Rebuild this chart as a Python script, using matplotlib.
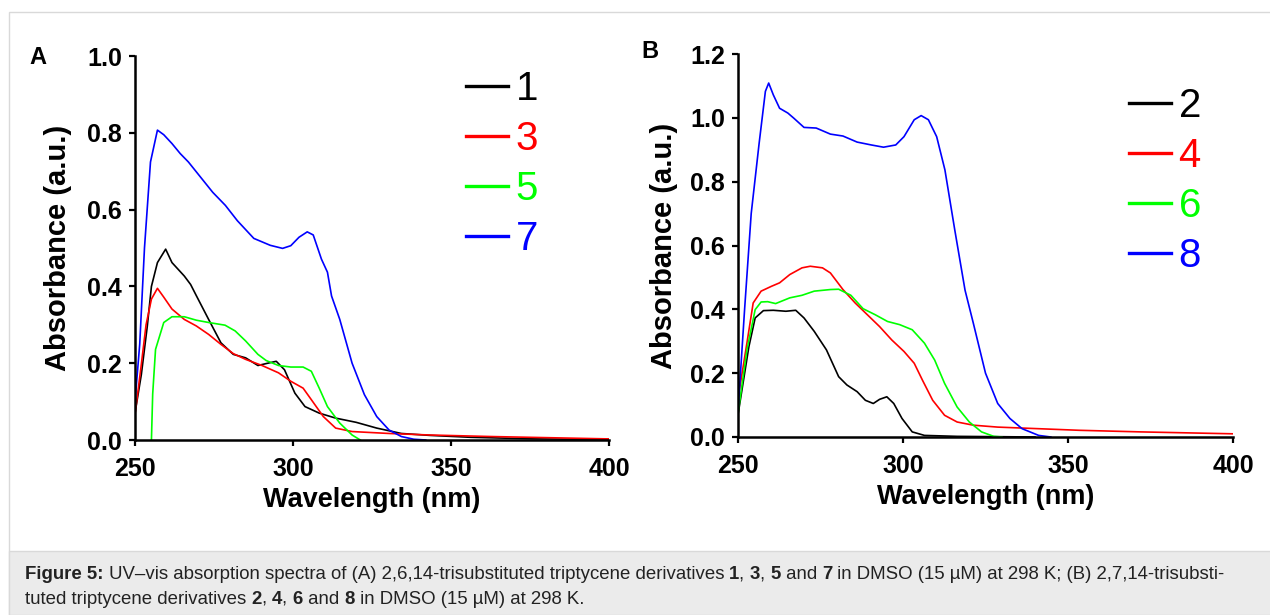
import matplotlib
matplotlib.use("Agg")
from matplotlib import pyplot as plt
from matplotlib.patches import Rectangle

# ---- panel A: 2,6,14-trisubstituted (1, 3, 5, 7) ----
wl_1 = [250, 252, 253.9, 255.2, 257.1, 259.7, 261.7, 265.6, 267.6, 269.4, 273.3, 277.2, 281.1, 285, 288.9,
        291.5, 294.7, 297.3, 300.6, 303.8, 308.3, 313.5, 320, 326.5, 334.3, 343.3, 356.3, 375.8, 400]
abs_1 = [0.07, 0.17, 0.297, 0.40, 0.462, 0.497, 0.462, 0.427, 0.405, 0.376, 0.314, 0.253, 0.223, 0.214, 0.194,
         0.199, 0.205, 0.183, 0.122, 0.087, 0.07, 0.057, 0.046, 0.031, 0.017, 0.012, 0.007, 0.003, 0.001]

wl_3 = [250, 251.9, 253.5, 255.2, 257.1, 259.1, 261.7, 265.6, 269.4, 273.3, 277.2, 281.1, 285, 290.2, 295.4,
        299.3, 303.2, 305.8, 309.6, 313.5, 318.7, 330.4, 343.3, 362.8, 399, 400]
abs_3 = [0.066, 0.19, 0.30, 0.367, 0.395, 0.372, 0.341, 0.314, 0.297, 0.275, 0.249, 0.225, 0.21, 0.194, 0.175,
         0.153, 0.135, 0.105, 0.061, 0.031, 0.022, 0.017, 0.013, 0.009, 0.003, 0.003]

wl_5 = [255.2, 255.6, 256.5, 259.1, 261.7, 265.6, 269.4, 273.3, 278.5, 281.7, 285, 288.9, 291.5, 295.4, 299.3,
        303.2, 305.8, 308.3, 310.9, 314.8, 318.7, 321.3]
abs_5 = [0.0, 0.12, 0.236, 0.306, 0.321, 0.321, 0.312, 0.306, 0.299, 0.284, 0.258, 0.223, 0.207, 0.194, 0.19,
         0.19, 0.179, 0.135, 0.087, 0.044, 0.013, 0.0]

wl_7 = [250, 251.5, 253, 254.9, 257.1, 259.1, 261.7, 264.3, 266.9, 270.7, 274.6, 278.6, 282.4, 287.6, 292.8,
        296.7, 299.3, 301.9, 304.5, 306.4, 309.0, 310.9, 312.2, 314.8, 318.7, 322.6, 326.5, 330.4, 334.3,
        338.2, 342]
abs_7 = [0.10, 0.25, 0.50, 0.724, 0.807, 0.795, 0.772, 0.746, 0.724, 0.685, 0.645, 0.611, 0.571, 0.525, 0.507,
         0.499, 0.506, 0.528, 0.542, 0.534, 0.471, 0.437, 0.375, 0.314, 0.20, 0.118, 0.061, 0.026, 0.009,
         0.002, 0.0]

# ---- panel B: 2,7,14-trisubstituted (2, 4, 6, 8) ----
wl_2 = [250, 253.3, 255.2, 257.7, 260.7, 264.5, 267.5, 270, 273.1, 276.8, 280.5, 283, 286.1, 288.6, 291,
        292.9, 295.1, 297.2, 299.7, 302.8, 306.5, 316.4, 328.7, 340]
abs_2 = [0.07, 0.283, 0.373, 0.396, 0.397, 0.394, 0.397, 0.373, 0.331, 0.273, 0.189, 0.163, 0.142, 0.115, 0.105,
         0.118, 0.126, 0.105, 0.058, 0.016, 0.005, 0.002, 0.001, 0.0]

wl_4 = [250, 252.7, 254.6, 257, 260.1, 262.6, 265.7, 269.4, 271.9, 275.6, 278, 281.8, 285.5, 289.2, 292.9,
        296.6, 300.3, 303.4, 305.9, 309, 312.6, 316.4, 321.3, 328.7, 341.1, 353.4, 372, 400]
abs_4 = [0.12, 0.294, 0.42, 0.457, 0.472, 0.483, 0.509, 0.53, 0.535, 0.53, 0.514, 0.462, 0.42, 0.383, 0.346,
         0.304, 0.268, 0.231, 0.178, 0.115, 0.068, 0.047, 0.037, 0.031, 0.026, 0.021, 0.016, 0.01]

wl_6 = [250, 252.7, 255.2, 257, 259, 261.4, 265.7, 269.4, 273.1, 278, 280.5, 284.2, 287.9, 291.6, 295.3,
        299, 302.8, 306.5, 309.6, 312.6, 316.4, 320.1, 323.8, 327.5, 330]
abs_6 = [0.073, 0.273, 0.399, 0.423, 0.424, 0.418, 0.436, 0.444, 0.457, 0.462, 0.463, 0.444, 0.402, 0.383, 0.362,
         0.352, 0.336, 0.294, 0.241, 0.168, 0.094, 0.047, 0.016, 0.002, 0.0]

wl_8 = [250, 252, 254, 256.4, 258.3, 259.3, 260.7, 262.6, 265.1, 266.9, 270, 273.7, 278, 281.8, 286.1, 290.4,
        294.1, 297.8, 300.3, 303.4, 305.5, 307.7, 310.2, 312.7, 315.7, 318.8, 321.3, 325, 328.7, 332.4,
        336.1, 341.1, 344.8]
abs_8 = [0.08, 0.40, 0.70, 0.92, 1.083, 1.109, 1.072, 1.03, 1.015, 0.999, 0.97, 0.968, 0.949, 0.943, 0.924, 0.915,
         0.908, 0.915, 0.941, 0.994, 1.007, 0.994, 0.941, 0.837, 0.648, 0.46, 0.357, 0.2, 0.105, 0.058,
         0.026, 0.005, 0.0]

labels_a = ["1", "3", "5", "7"]
labels_b = ["2", "4", "6", "8"]
colors = ["#000000", "#ff0000", "#00ff00", "#0000ff"]

caption_1 = [("Figure 5:", True), (" UV\u2013vis absorption spectra of (A) 2,6,14-trisubstituted triptycene derivatives ", False),
             ("1", True), (", ", False), ("3", True), (", ", False), ("5", True), (" and ", False), ("7", True),
             (" in DMSO (15 \u00b5M) at 298 K; (B) 2,7,14-trisubsti-", False)]
caption_2 = [("tuted triptycene derivatives ", False), ("2", True), (", ", False), ("4", True), (", ", False),
             ("6", True), (" and ", False), ("8", True), (" in DMSO (15 \u00b5M) at 298 K.", False)]

plt.rcParams["font.family"] = ["Liberation Sans", "DejaVu Sans"]

W, H = 1270, 615
fig = plt.figure(figsize=(12.7, 6.15), dpi=100)

# outer frame + caption box
fig.patches.append(Rectangle((9 / W, 0), 1.2, 1 - 12 / H, transform=fig.transFigure,
                             fill=False, edgecolor="#d9d9d9", linewidth=1.0))
fig.patches.append(Rectangle((9 / W, 0), 1.2, (615 - 551) / H, transform=fig.transFigure,
                             facecolor="#ebebeb", edgecolor="#d9d9d9", linewidth=1.0))

ax_a = fig.add_axes([135 / W, 1 - 440 / H, (609 - 135) / W, (440 - 56) / H])
ax_b = fig.add_axes([738 / W, 1 - 437 / H, (1233 - 738) / W, (437 - 54) / H])

for ax, xs, ys, labs in [(ax_a, [wl_1, wl_3, wl_5, wl_7], [abs_1, abs_3, abs_5, abs_7], labels_a),
                         (ax_b, [wl_2, wl_4, wl_6, wl_8], [abs_2, abs_4, abs_6, abs_8], labels_b)]:
    for x, y, c, l in zip(xs, ys, colors, labs):
        ax.plot(x, y, color=c, lw=1.2, label=l)
    ax.set_xlim(250, 400)
    ax.set_xticks([250, 300, 350, 400])
    for s in ["top", "right"]:
        ax.spines[s].set_visible(False)
    for s in ["left", "bottom"]:
        ax.spines[s].set_linewidth(1.8)
    ax.tick_params(direction="out", length=4.5, width=1.6, labelsize=18)
    ax.tick_params(axis="x", pad=8)
    ax.tick_params(axis="y", pad=5)
    ax.set_xlabel("Wavelength (nm)", fontsize=19.5, fontweight="bold")
    ax.set_ylabel("Absorbance (a.u.)", fontsize=21, fontweight="bold")
    ax.yaxis.set_major_formatter(matplotlib.ticker.FormatStrFormatter("%.1f"))

ax_a.set_ylim(0, 1.0)
ax_a.set_yticks([0, 0.2, 0.4, 0.6, 0.8, 1.0])
ax_b.set_ylim(0, 1.2)
ax_b.set_yticks([0, 0.2, 0.4, 0.6, 0.8, 1.0, 1.2])
for ax in [ax_a, ax_b]:
    for t in ax.get_xticklabels() + ax.get_yticklabels():
        t.set_fontweight("bold")

ax_a.xaxis.set_label_coords(0.5, -0.122)
ax_b.xaxis.set_label_coords(0.5, -0.122)
ax_a.yaxis.set_label_coords(-0.133, 0.5)
ax_b.yaxis.set_label_coords(-0.121, 0.5)

for ax, x0, y0 in [(ax_a, 466, 70), (ax_b, 1129, 87)]:
    leg = ax.legend(loc="upper left", bbox_to_anchor=(x0 / W, 1 - y0 / H), bbox_transform=fig.transFigure,
                    frameon=False, fontsize=29, handlelength=1.05, handletextpad=0.18, labelspacing=0.30,
                    borderpad=0, borderaxespad=0, labelcolor="linecolor")
    for ln in leg.get_lines():
        ln.set_linewidth(2.4)

fig.text(38 / W, 1 - 57 / H, "A", fontsize=17, fontweight="bold", ha="center", va="center")
fig.text(650 / W, 1 - 52 / H, "B", fontsize=17, fontweight="bold", ha="center", va="center")

# caption with mixed bold / regular runs
renderer = fig.canvas.get_renderer()


def run_width(s, bold, size):
    t1 = fig.text(0, 0, "." + s + ".", fontsize=size, fontweight="bold" if bold else "normal")
    t2 = fig.text(0, 0, "..", fontsize=size, fontweight="bold" if bold else "normal")
    w = t1.get_window_extent(renderer).width - t2.get_window_extent(renderer).width
    t1.remove()
    t2.remove()
    return w


# size the caption so the first line spans the box like the original
line1_w = sum(run_width(s, b, 10) for s, b in caption_1)
cap_size = 10 * (1230 - 25) / line1_w

for runs, base in [(caption_1, 579), (caption_2, 604)]:
    x = 25
    for s, bold in runs:
        fig.text(x / W, 1 - base / H, s, fontsize=cap_size, fontweight="bold" if bold else "normal",
                 color="#222222", va="baseline", ha="left")
        x += run_width(s, bold, cap_size)

fig.savefig("out.png", dpi=100)
